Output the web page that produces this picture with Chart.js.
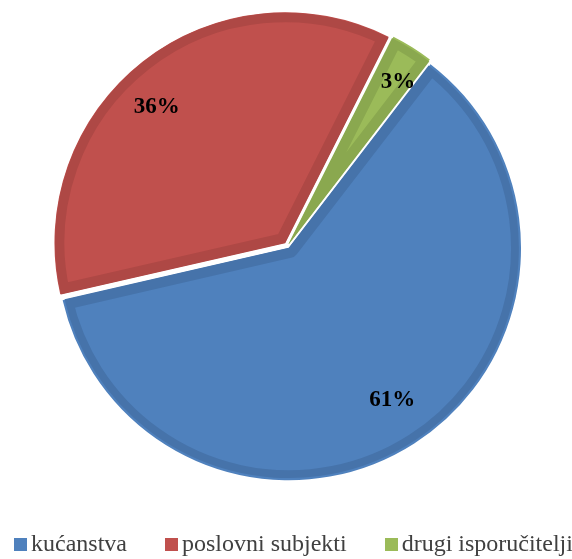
<!DOCTYPE html>
<html>
<head>
<meta charset="utf-8">
<script src="https://cdn.jsdelivr.net/npm/chart.js@4"></script>
<style>
  html,body{margin:0;padding:0;background:#fff;}
  #wrap{position:relative;width:572px;height:559px;}
  #legend{position:absolute;left:14px;top:529px;display:flex;gap:38px;
    font:24px "Liberation Serif","Times New Roman",serif;color:#404040;line-height:28px;white-space:nowrap;}
  #legend span.item{display:flex;align-items:center;}
  #legend i{display:inline-block;width:13px;height:13px;margin-right:4px;margin-top:2px;}
</style>
</head>
<body>
<div id="wrap"><canvas id="myChart"></canvas><div id="legend"></div></div>
<script>
const labels=['kućanstva','poslovni subjekti','drugi isporučitelji'];
const values=[61,36,3];
const pctLabels=['61%','36%','3%'];
const fills=['#4F81BD','#C0504D','#9BBB59'];
const borders=['#4673AA','#AE4845','#8AA84F'];

// where each percent label sits: fraction of radius and small angle shift (deg)
const labelPos=[{f:0.80,shift:-2},{f:0.84,shift:-4.5},{f:0.87,shift:1.4}];

const pctPlugin={
    id:'pct',
    afterDatasetsDraw(chart){
        const c=chart.ctx;
        const meta=chart.getDatasetMeta(0);
        c.save();
        c.font='bold 23px "Liberation Serif", "Times New Roman", serif';
        c.fillStyle='#000';
        c.textAlign='center';
        c.textBaseline='middle';
        meta.data.forEach((arc,i)=>{
            const p=arc.getProps(['x','y','startAngle','endAngle','outerRadius']);
            const mid=(p.startAngle+p.endAngle)/2+labelPos[i].shift*Math.PI/180;
            const r=p.outerRadius*labelPos[i].f;
            c.fillText(pctLabels[i],p.x+Math.cos(mid)*r,p.y+Math.sin(mid)*r+3);
        });
        c.restore();
    }
};

// legend as html below the pie
let leg=document.getElementById('legend');
labels.forEach((l,i)=>{
    let s=document.createElement('span');
    s.className='item';
    s.innerHTML='<i style="background:'+fills[i]+'"></i>'+l;
    leg.appendChild(s);
});

const ctx=document.getElementById('myChart').getContext('2d');
const myChart=new Chart(ctx,{
    type:'pie',
    data:{
        labels:labels,
        datasets:[{
            data:values,
            backgroundColor:fills,
            borderColor:borders,
            borderWidth:10,
            borderAlign:'inner',
            // chart.js scales the offset per slice, these give ~5px each
            offset:[10,16,11],
            radius:230
        }]
    },
    options:{
        responsive:true,
        maintainAspectRatio:false,
        animation:false,
        rotation:37.5,
        layout:{padding:{left:3,right:-3,top:0,bottom:67}},
        plugins:{
            tooltip:{enabled:false},
            legend:{display:false}
        }
    },
    plugins:[pctPlugin]
});
</script>
</body>
</html>
